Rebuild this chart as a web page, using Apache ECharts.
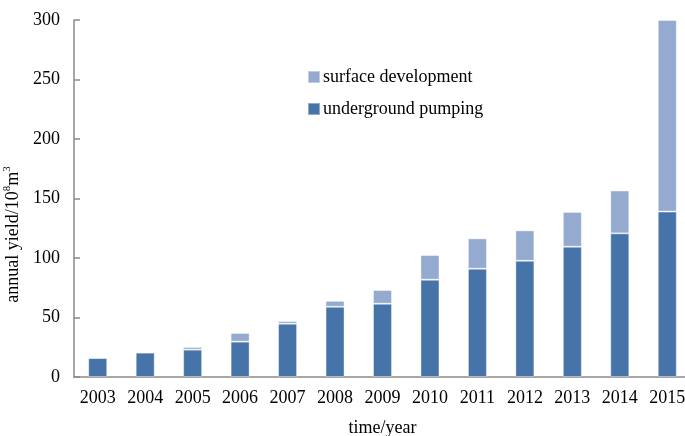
<!DOCTYPE html>
<html>
<head>
<meta charset="utf-8">
<script src="https://cdn.jsdelivr.net/npm/echarts@6/dist/echarts.min.js"></script>
<style>html,body{margin:0;padding:0;background:#fff}#c{width:685px;height:436px}</style>
</head>
<body>
<div id="c"></div>
<script>
const years = ['2003','2004','2005','2006','2007','2008','2009','2010','2011','2012','2013','2014','2015'];
const underground = [16, 20.5, 23, 29.7, 44.8, 59, 61.6, 81.8, 91, 97.7, 109.5, 120.7, 139];
const surface = [0, 0, 2.2, 7.3, 2.2, 5, 11.5, 20.7, 25.5, 25.5, 29.2, 36, 161];
const yTicks = [0, 50, 100, 150, 200, 250, 300];

const font = 'Liberation Serif';
const chart = echarts.init(document.getElementById('c'), null, {renderer: 'canvas'});
chart.setOption({
  animation: false,
  backgroundColor: '#fff',
  grid: {left: 74, right: -6, top: 20, bottom: 59, containLabel: false, outerBoundsMode: 'none'},
  legend: {
    orient: 'vertical', left: 307, top: 68, itemWidth: 12, itemHeight: 12, itemGap: 14,
    padding: 0, icon: 'rect',
    textStyle: {fontFamily: font, fontSize: 18, color: '#000', padding: [0, 0, 0, -2]},
    data: ['surface development', 'underground pumping']
  },
  xAxis: {
    type: 'category', data: years,
    name: 'time/year', nameLocation: 'middle', nameGap: 42,
    nameTextStyle: {fontFamily: font, fontSize: 18, color: '#000'},
    axisLine: {lineStyle: {color: '#8a8a8a', width: 1.5}},
    axisTick: {inside: true, length: 6, lineStyle: {color: '#8a8a8a', width: 1.5}},
    axisLabel: {fontFamily: font, fontSize: 18, color: '#000', margin: 12}
  },
  yAxis: {
    type: 'value', min: yTicks[0], max: yTicks[yTicks.length-1], interval: 50,
    name: '{n|annual yield/10}{s|8}{n|m}{s|3}', nameLocation: 'middle', nameGap: 47, nameRotate: 90,
    nameTextStyle: {
      fontFamily: font, fontSize: 18, color: '#000', padding: [0, 72, 0, 0],
      rich: {
        n: {fontFamily: font, fontSize: 18, color: '#000', lineHeight: 20, verticalAlign: 'bottom'},
        s: {fontFamily: font, fontSize: 11, color: '#000', lineHeight: 20, verticalAlign: 'top'}
      }
    },
    axisLine: {show: true, lineStyle: {color: '#8a8a8a', width: 1.5}},
    axisTick: {show: true, inside: true, length: 6, lineStyle: {color: '#8a8a8a', width: 1.5}},
    splitLine: {show: false},
    axisLabel: {fontFamily: font, fontSize: 18, color: '#000', margin: 14}
  },
  series: [
    {
      name: 'underground pumping', type: 'bar', stack: 'a', data: underground, barWidth: 19,
      itemStyle: {color: '#4673A8', borderColor: 'rgba(255,255,255,0.4)', borderWidth: 1}
    },
    {
      name: 'surface development', type: 'bar', stack: 'a', data: surface, barWidth: 19,
      itemStyle: {color: '#94AACF', borderColor: 'rgba(255,255,255,0.4)', borderWidth: 1}
    }
  ]
});
</script>
</body>
</html>
